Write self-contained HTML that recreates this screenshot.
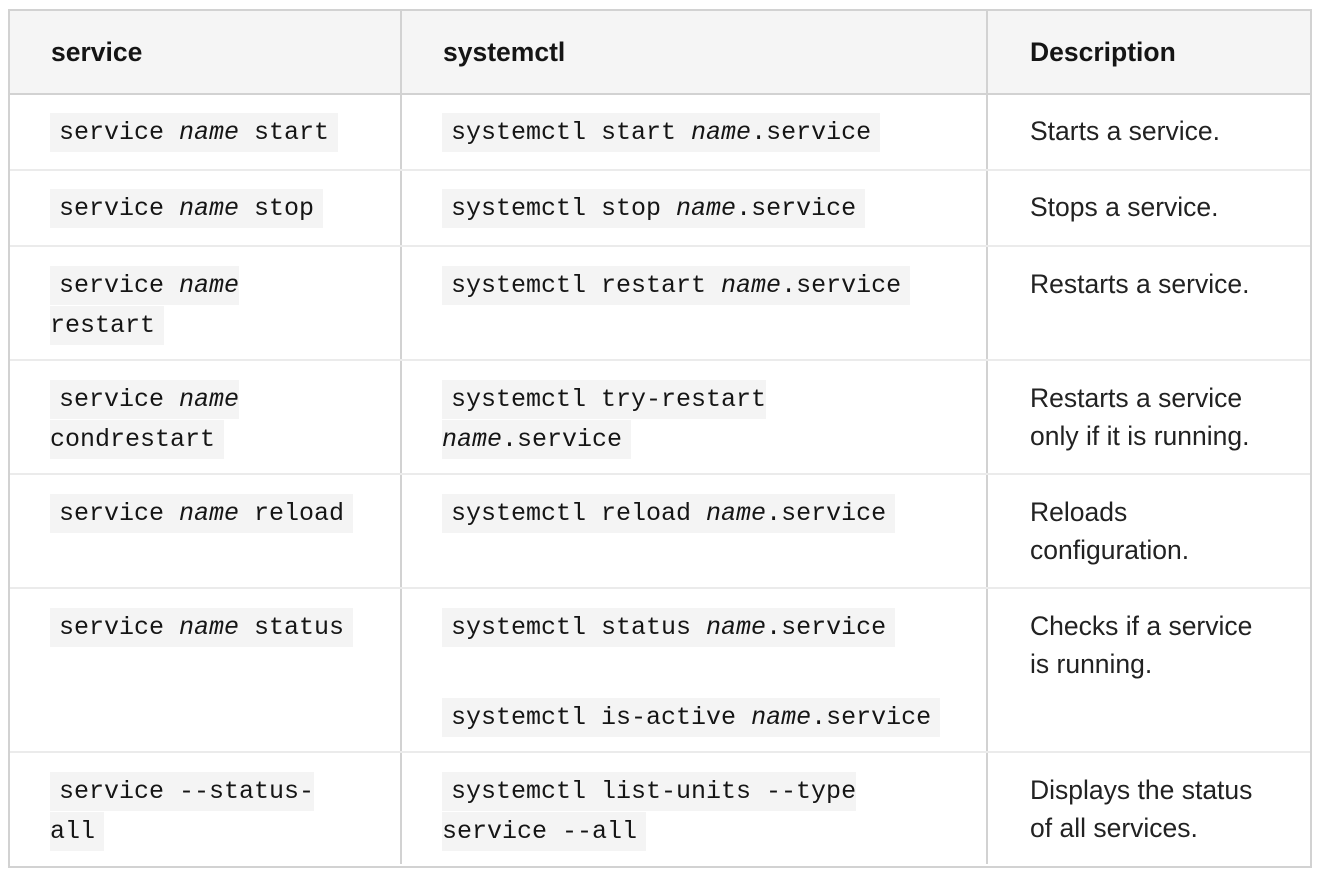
<!DOCTYPE html>
<html><head><meta charset="utf-8"><style>
body{margin:0;width:1330px;height:882px;background:#fff;position:relative;font-family:"Liberation Sans",sans-serif;color:#151515;overflow:hidden}
.box{position:absolute;left:8px;top:9px;width:1300px;height:855px;border:2px solid #d2d2d2}
.hdr{position:absolute;left:10px;top:11px;width:1300px;height:82px;background:#f5f5f5;border-bottom:2px solid #d2d2d2}
.vl{position:absolute;top:11px;width:2px;height:853px;background:#d2d2d2}
.hl{position:absolute;left:10px;width:1300px;height:2px;background:#ebebeb}
.c{position:absolute;line-height:38px;font-size:25px}
.d{font-size:26.5px;color:#222}
.h{font-weight:bold;font-size:26.5px;line-height:38px;position:absolute;top:33px}
code{font-family:"Liberation Mono",monospace;font-size:25px;color:#151515;background:#f4f4f4;padding:5px 9px;-webkit-box-decoration-break:slice;box-decoration-break:slice}
i{font-style:italic}
</style></head><body>
<div class="box"></div>
<div class="hdr"></div>
<div class="vl" style="left:400px"></div>
<div class="vl" style="left:986px"></div>
<div class="hl" style="top:169px"></div>
<div class="hl" style="top:245px"></div>
<div class="hl" style="top:359px"></div>
<div class="hl" style="top:473px"></div>
<div class="hl" style="top:587px"></div>
<div class="hl" style="top:751px"></div>

<div class="h" style="left:51px">service</div>
<div class="h" style="left:443px">systemctl</div>
<div class="h" style="left:1030px">Description</div>

<div class="c" style="left:50px;top:112px"><code>service <i>name</i> start</code></div>
<div class="c" style="left:442px;top:112px"><code>systemctl start <i>name</i>.service</code></div>
<div class="c d" style="left:1030px;top:112px">Starts a service.</div>

<div class="c" style="left:50px;top:188px"><code>service <i>name</i> stop</code></div>
<div class="c" style="left:442px;top:188px"><code>systemctl stop <i>name</i>.service</code></div>
<div class="c d" style="left:1030px;top:188px">Stops a service.</div>

<div class="c" style="left:50px;top:265px;width:300px"><code>service <i>name</i><br>restart</code></div>
<div class="c" style="left:442px;top:265px"><code>systemctl restart <i>name</i>.service</code></div>
<div class="c d" style="left:1030px;top:265px">Restarts a service.</div>

<div class="c" style="left:50px;top:379px"><code>service <i>name</i><br>condrestart</code></div>
<div class="c" style="left:442px;top:379px"><code>systemctl try-restart<br><i>name</i>.service</code></div>
<div class="c d" style="left:1030px;top:379px">Restarts a service<br>only if it is running.</div>

<div class="c" style="left:50px;top:493px"><code>service <i>name</i> reload</code></div>
<div class="c" style="left:442px;top:493px"><code>systemctl reload <i>name</i>.service</code></div>
<div class="c d" style="left:1030px;top:493px">Reloads<br>configuration.</div>

<div class="c" style="left:50px;top:607px"><code>service <i>name</i> status</code></div>
<div class="c" style="left:442px;top:607px"><code>systemctl status <i>name</i>.service</code></div>
<div class="c" style="left:442px;top:697px"><code>systemctl is-active <i>name</i>.service</code></div>
<div class="c d" style="left:1030px;top:607px">Checks if a service<br>is running.</div>

<div class="c" style="left:50px;top:771px"><code>service --status-<br>all</code></div>
<div class="c" style="left:442px;top:771px"><code>systemctl list-units --type<br>service --all</code></div>
<div class="c d" style="left:1030px;top:771px">Displays the status<br>of all services.</div>
</body></html>
